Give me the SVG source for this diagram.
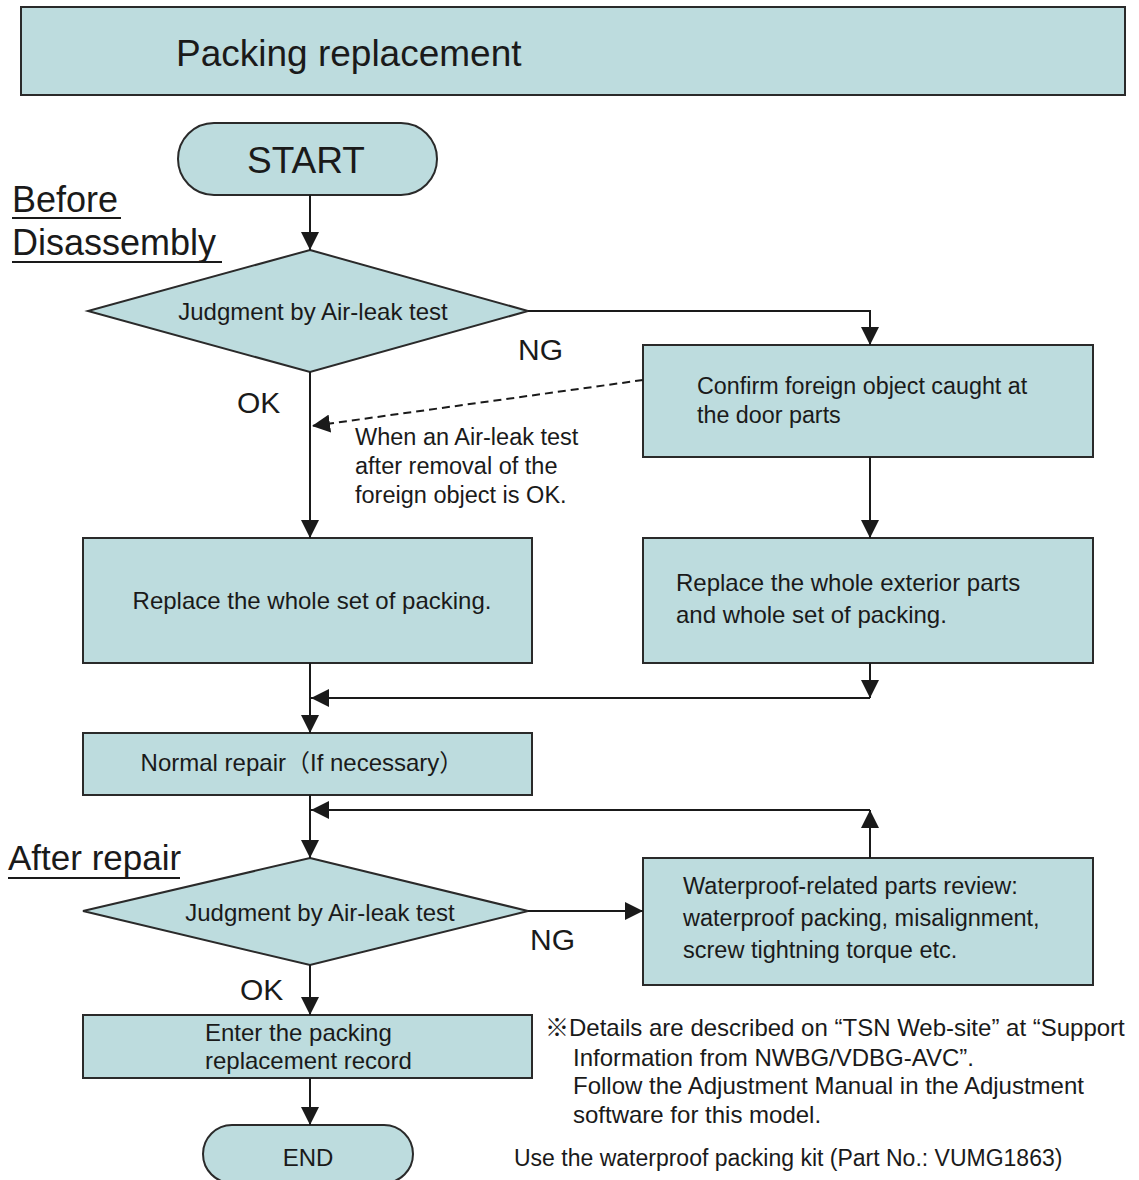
<svg xmlns="http://www.w3.org/2000/svg" width="1139" height="1180" viewBox="0 0 1139 1180">
<style>
.n{fill:#bddcde;stroke:#2a2a2a;stroke-width:2}
.t{font-family:"Liberation Sans",Arial,"Noto Sans CJK JP",sans-serif;fill:#1a1a1a}
.c{stroke:#1a1a1a;stroke-width:2;fill:none}
.d{stroke:#1a1a1a;stroke-width:2;fill:none;stroke-dasharray:8,5}
</style>
<defs>
<marker id="ahb" viewBox="0 0 10 10" refX="10" refY="5" markerWidth="18" markerHeight="18" markerUnits="userSpaceOnUse" orient="auto">
<path d="M0,0 L10,5 L0,10 z" fill="#1a1a1a"/>
</marker>
</defs>
<rect width="1139" height="1180" fill="#ffffff"/>

<g id="title">
<rect class="n" x="21" y="7" width="1104" height="88"/>
<text class="t" x="176" y="66" font-size="37">Packing replacement</text>
</g>

<g id="labels">
<text class="t" x="12" y="212" font-size="36">Before</text>
<line x1="12" y1="218" x2="121" y2="218" stroke="#1a1a1a" stroke-width="2"/>
<text class="t" x="12" y="255" font-size="36">Disassembly</text>
<line x1="12" y1="262" x2="222" y2="262" stroke="#1a1a1a" stroke-width="2"/>
<text class="t" x="8" y="870" font-size="35">After repair</text>
<line x1="8" y1="878" x2="180" y2="878" stroke="#1a1a1a" stroke-width="2"/>
<text class="t" x="518" y="360" font-size="30">NG</text>
<text class="t" x="237" y="413" font-size="30">OK</text>
<text class="t" x="530" y="950" font-size="30">NG</text>
<text class="t" x="240" y="1000" font-size="30">OK</text>
<text class="t" font-size="23.5"><tspan x="355" y="445">When an Air-leak test</tspan><tspan x="355" y="474">after removal of the</tspan><tspan x="355" y="503">foreign object is OK.</tspan></text>
<text class="t" font-size="24"><tspan x="545" y="1036">※Details are described on “TSN Web-site” at “Support</tspan><tspan x="573" y="1066">Information from NWBG/VDBG-AVC”.</tspan><tspan x="573" y="1094">Follow the Adjustment Manual in the Adjustment</tspan><tspan x="573" y="1123">software for this model.</tspan></text>
<text class="t" x="514" y="1166" font-size="23">Use the waterproof packing kit (Part No.: VUMG1863)</text>
</g>

<g id="start">
<rect class="n" x="178" y="123" width="259" height="72" rx="36"/>
<text class="t" x="306" y="173" font-size="37" text-anchor="middle">START</text>
</g>

<g id="judge1">
<polygon class="n" points="310,250 528,311 310,372 88,311"/>
<text class="t" x="313" y="320" font-size="24" text-anchor="middle">Judgment by Air-leak test</text>
</g>

<g id="confirm">
<rect class="n" x="643" y="345" width="450" height="112"/>
<text class="t" font-size="23.3"><tspan x="697" y="394">Confirm foreign object caught at</tspan><tspan x="697" y="423">the door parts</tspan></text>
</g>

<g id="replace1">
<rect class="n" x="83" y="538" width="449" height="125"/>
<text class="t" x="312" y="609" font-size="24" text-anchor="middle">Replace the whole set of packing.</text>
</g>

<g id="replace2">
<rect class="n" x="643" y="538" width="450" height="125"/>
<text class="t" font-size="24"><tspan x="676" y="591">Replace the whole exterior parts</tspan><tspan x="676" y="623">and whole set of packing.</tspan></text>
</g>

<g id="repair">
<rect class="n" x="83" y="733" width="449" height="62"/>
<text class="t" x="302" y="771" font-size="24" text-anchor="middle">Normal repair（If necessary）</text>
</g>

<g id="judge2">
<polygon class="n" points="310,858 528,911 310,965 83,911"/>
<text class="t" x="320" y="921" font-size="24" text-anchor="middle">Judgment by Air-leak test</text>
</g>

<g id="review">
<rect class="n" x="643" y="858" width="450" height="127"/>
<text class="t" font-size="23.5"><tspan x="683" y="894">Waterproof-related parts review:</tspan><tspan x="683" y="926">waterproof packing, misalignment,</tspan><tspan x="683" y="958">screw tightning torque etc.</tspan></text>
</g>

<g id="record">
<rect class="n" x="83" y="1015" width="449" height="63"/>
<text class="t" font-size="24"><tspan x="205" y="1041">Enter the packing</tspan><tspan x="205" y="1069">replacement record</tspan></text>
</g>

<g id="end">
<rect class="n" x="203" y="1125" width="210" height="58" rx="29"/>
<text class="t" x="308" y="1166" font-size="24" text-anchor="middle">END</text>
</g>

<g id="connectors">
<line class="c" x1="310" y1="195" x2="310" y2="250" marker-end="url(#ahb)"/>
<polyline class="c" points="528,311 870,311 870,345" marker-end="url(#ahb)"/>
<line class="d" x1="643" y1="380" x2="312" y2="426" marker-end="url(#ahb)"/>
<line class="c" x1="310" y1="372" x2="310" y2="538" marker-end="url(#ahb)"/>
<line class="c" x1="870" y1="457" x2="870" y2="538" marker-end="url(#ahb)"/>
<line class="c" x1="870" y1="663" x2="870" y2="698" marker-end="url(#ahb)"/>
<line class="c" x1="870" y1="698" x2="311" y2="698" marker-end="url(#ahb)"/>
<line class="c" x1="310" y1="663" x2="310" y2="733" marker-end="url(#ahb)"/>
<line class="c" x1="310" y1="795" x2="310" y2="858" marker-end="url(#ahb)"/>
<line class="c" x1="870" y1="858" x2="870" y2="810" marker-end="url(#ahb)"/>
<line class="c" x1="870" y1="810" x2="311" y2="810" marker-end="url(#ahb)"/>
<line class="c" x1="528" y1="911" x2="643" y2="911" marker-end="url(#ahb)"/>
<line class="c" x1="310" y1="965" x2="310" y2="1015" marker-end="url(#ahb)"/>
<line class="c" x1="310" y1="1078" x2="310" y2="1125" marker-end="url(#ahb)"/>
</g>
</svg>
